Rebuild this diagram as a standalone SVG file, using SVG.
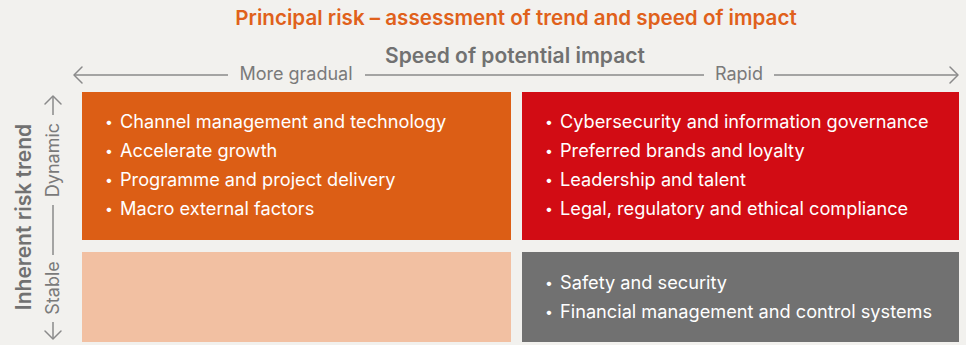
<svg xmlns="http://www.w3.org/2000/svg" width="966" height="345" viewBox="0 0 966 345">
  <style>
    .title { font-family: Inter, "Liberation Sans", sans-serif; font-weight: 600; font-size: 20.6px; fill: #e0611b; }
    .axis-title { font-family: Inter, "Liberation Sans", sans-serif; font-weight: 600; font-size: 21px; fill: #717171; }
    .axis-label { font-family: Inter, "Liberation Sans", sans-serif; font-size: 18px; fill: #7a7a7a; }
    .item { font-family: Inter, "Liberation Sans", sans-serif; font-size: 18.2px; fill: #ffffff; }
    .dot { font-family: Inter, "Liberation Sans", sans-serif; font-size: 14px; fill: #ffffff; }
    .axis-line { stroke: #8a8a8a; stroke-width: 1.5; fill: none; }
    .head { stroke: #8a8a8a; stroke-width: 1.5; fill: none; stroke-linecap: round; stroke-linejoin: round; }
  </style>

  <rect width="966" height="345" fill="#f2f1ee"/>

  <text class="title" x="516" y="25" text-anchor="middle">Principal risk – assessment of trend and speed of impact</text>
  <text class="axis-title" x="515" y="63" text-anchor="middle">Speed of potential impact</text>

  <!-- axes -->
  <g id="connectors">
    <!-- horizontal: speed of impact -->
    <line class="axis-line" x1="74" y1="75" x2="228" y2="75"/>
    <line class="axis-line" x1="365" y1="75" x2="704" y2="75"/>
    <line class="axis-line" x1="774" y1="75" x2="958" y2="75"/>
    <polyline class="head" points="82,67 74,75 82,83"/>
    <polyline class="head" points="950,67 958,75 950,83"/>
    <!-- vertical: inherent risk trend -->
    <line class="axis-line" x1="53" y1="96" x2="53" y2="115"/>
    <line class="axis-line" x1="53" y1="205" x2="53" y2="255"/>
    <line class="axis-line" x1="53" y1="322" x2="53" y2="339"/>
    <polyline class="head" points="45,104 53,96 61,104"/>
    <polyline class="head" points="45,331 53,339 61,331"/>
  </g>

  <text class="axis-label" x="296" y="80" text-anchor="middle">More gradual</text>
  <text class="axis-label" x="739" y="80" text-anchor="middle">Rapid</text>

  <text class="axis-title" transform="translate(31,217) rotate(-90)" text-anchor="middle">Inherent risk trend</text>
  <text class="axis-label" transform="translate(59,160) rotate(-90)" text-anchor="middle">Dynamic</text>
  <text class="axis-label" transform="translate(59,288) rotate(-90)" text-anchor="middle">Stable</text>

  <!-- quadrants -->
  <g id="gradual-dynamic">
    <rect x="82" y="92" width="429" height="148" fill="#dc5e15"/>
    <text class="item" x="120" y="128">Channel management and technology</text>
    <text class="item" x="120" y="157">Accelerate growth</text>
    <text class="item" x="120" y="186">Programme and project delivery</text>
    <text class="item" x="120" y="215">Macro external factors</text>
    <text class="dot" x="105" y="127">•</text>
    <text class="dot" x="105" y="156">•</text>
    <text class="dot" x="105" y="185">•</text>
    <text class="dot" x="105" y="214">•</text>
  </g>

  <g id="rapid-dynamic">
    <rect x="522" y="92" width="437" height="148" fill="#d20c14"/>
    <text class="item" x="560" y="128">Cybersecurity and information governance</text>
    <text class="item" x="560" y="157">Preferred brands and loyalty</text>
    <text class="item" x="560" y="186">Leadership and talent</text>
    <text class="item" x="560" y="215">Legal, regulatory and ethical compliance</text>
    <text class="dot" x="545" y="127">•</text>
    <text class="dot" x="545" y="156">•</text>
    <text class="dot" x="545" y="185">•</text>
    <text class="dot" x="545" y="214">•</text>
  </g>

  <g id="gradual-stable">
    <rect x="82" y="252" width="429" height="90" fill="#f2c0a2"/>
  </g>

  <g id="rapid-stable">
    <rect x="522" y="252" width="437" height="90" fill="#717171"/>
    <text class="item" x="560" y="289">Safety and security</text>
    <text class="item" x="560" y="318">Financial management and control systems</text>
    <text class="dot" x="545" y="288">•</text>
    <text class="dot" x="545" y="317">•</text>
  </g>
</svg>
